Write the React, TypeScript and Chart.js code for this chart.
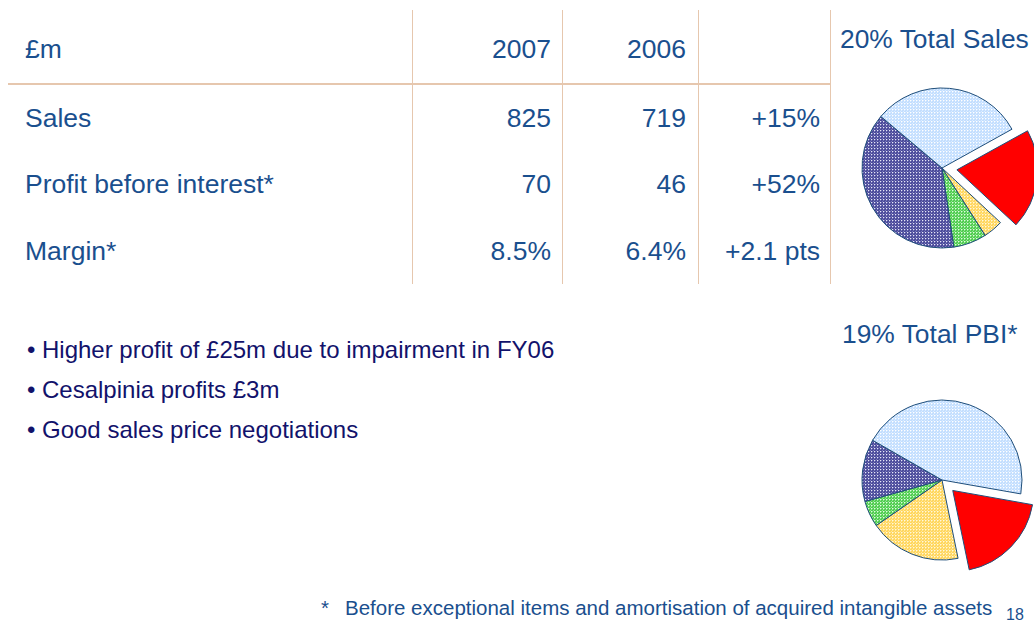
import React, { useEffect, useRef } from "react";
import { Chart, registerables } from "chart.js";

Chart.register(...registerables);

// ---- data ----
const segments = ["This division", "Segment B", "Segment C", "Segment D", "Segment E"];
const salesShare = [20, 4, 6.7, 38.5, 30.8];
const pbiShare = [19, 18.6, 5.3, 12.6, 44.5];
const salesRotation = 61;
const pbiRotation = 100;

const tableHeader = ["£m", "2007", "2006", ""];
const rowLabels = ["Sales", "Profit before interest*", "Margin*"];
const values2007 = ["825", "70", "8.5%"];
const values2006 = ["719", "46", "6.4%"];
const changes = ["+15%", "+52%", "+2.1 pts"];

const bullets = [
  "Higher profit of £25m due to impairment in FY06",
  "Cesalpinia profits £3m",
  "Good sales price negotiations",
];
const salesTitle = "20% Total Sales";
const pbiTitle = "19% Total PBI*";
const footnote = "Before exceptional items and amortisation of acquired intangible assets";
const pageNumber = "18";

// ---- styles ----
const BLUE = "#1a4f8e";
const NAVY = "#12126b";
const LINE = "#e6c7ae";
const FONT = "'Liberation Sans', Arial, sans-serif";

function makePattern(base: string, mid: string, dot: string): CanvasPattern | string {
  const c = document.createElement("canvas");
  c.width = 3;
  c.height = 3;
  const x = c.getContext("2d");
  if (!x) return base;
  x.fillStyle = base;
  x.fillRect(0, 0, 3, 3);
  x.fillStyle = mid;
  x.fillRect(1, 0, 1, 1);
  x.fillRect(0, 1, 1, 1);
  x.fillRect(2, 2, 1, 1);
  x.fillStyle = dot;
  x.fillRect(0, 0, 1, 1);
  const ctx = document.createElement("canvas").getContext("2d");
  return (ctx && ctx.createPattern(c, "repeat")) || base;
}

function Pie({ values, rotation, cx, cy }: { values: number[]; rotation: number; cx: number; cy: number }) {
  const ref = useRef<HTMLCanvasElement>(null);
  useEffect(() => {
    const canvas = ref.current;
    if (!canvas) return;
    const fills = [
      "#ff0000",
      makePattern("#ffd65c", "#ffe69a", "#fff8dc"),
      makePattern("#50cc50", "#90e490", "#e0fae0"),
      makePattern("#4a4a9a", "#7878b8", "#e6e6f6"),
      makePattern("#c2deff", "#dcecff", "#ffffff"),
    ];
    const chart = new Chart(canvas, {
      type: "pie",
      data: {
        labels: segments,
        datasets: [
          {
            data: values,
            backgroundColor: fills as any,
            borderColor: "#1f4e7a",
            borderWidth: 1,
            offset: [60, 0, 0, 0, 0],
            radius: 80,
          } as any,
        ],
      },
      options: {
        animation: false,
        responsive: false,
        rotation,
        events: [],
        layout: { padding: 0 },
        plugins: { legend: { display: false }, tooltip: { enabled: false } },
      },
    });
    return () => chart.destroy();
  }, []);
  return (
    <canvas
      ref={ref}
      width={220}
      height={220}
      style={{ position: "absolute", left: cx - 110, top: cy - 110, width: 220, height: 220 }}
    />
  );
}

function Txt({
  text, x, baseline, size, color, align = "left",
}: { text: string; x: number; baseline: number; size: number; color: string; align?: "left" | "right" }) {
  const style: React.CSSProperties = {
    position: "absolute",
    top: baseline - 0.8465 * size,
    fontSize: size,
    lineHeight: 1,
    fontFamily: FONT,
    color,
    whiteSpace: "nowrap",
  };
  if (align === "right") style.right = 1034 - x;
  else style.left = x;
  return <div style={style}>{text}</div>;
}

export default function App() {
  const rowBaselines = [127, 193, 260];
  const TS = 26.5;
  return (
    <div
      style={{
        position: "absolute",
        left: 0,
        top: 0,
        width: 1034,
        height: 627,
        overflow: "hidden",
        background: "#ffffff",
      }}
    >
      {/* table lines */}
      {[412, 562, 698, 830].map((x) => (
        <div key={x} style={{ position: "absolute", left: x, top: 10, width: 1, height: 274, background: LINE }} />
      ))}
      <div style={{ position: "absolute", left: 8, top: 83, width: 823, height: 2, background: LINE }} />

      {/* header */}
      <Txt text={tableHeader[0]} x={25} baseline={58} size={TS} color={BLUE} />
      <Txt text={tableHeader[1]} x={551} baseline={58} size={TS} color={BLUE} align="right" />
      <Txt text={tableHeader[2]} x={686} baseline={58} size={TS} color={BLUE} align="right" />

      {rowLabels.map((l, i) => (
        <React.Fragment key={l}>
          <Txt text={l} x={25} baseline={rowBaselines[i]} size={TS} color={BLUE} />
          <Txt text={values2007[i]} x={551} baseline={rowBaselines[i]} size={TS} color={BLUE} align="right" />
          <Txt text={values2006[i]} x={686} baseline={rowBaselines[i]} size={TS} color={BLUE} align="right" />
          <Txt text={changes[i]} x={820} baseline={rowBaselines[i]} size={TS} color={BLUE} align="right" />
        </React.Fragment>
      ))}

      {/* bullets */}
      {bullets.map((b, i) => (
        <React.Fragment key={b}>
          <Txt text="•" x={27} baseline={358.3 + i * 40} size={24} color={NAVY} />
          <Txt text={b} x={42} baseline={358.3 + i * 40} size={24} color={NAVY} />
        </React.Fragment>
      ))}

      {/* pie titles */}
      <Txt text={salesTitle} x={840} baseline={48.3} size={26.4} color={BLUE} />
      <Txt text={pbiTitle} x={842} baseline={343} size={26.4} color={BLUE} />

      <Pie values={salesShare} rotation={salesRotation} cx={942} cy={168} />
      <Pie values={pbiShare} rotation={pbiRotation} cx={942} cy={480} />

      {/* footnote */}
      <Txt text="*" x={321} baseline={615} size={20.5} color={BLUE} />
      <Txt text={footnote} x={345} baseline={615} size={20.5} color={BLUE} />
      <Txt text={pageNumber} x={1006} baseline={621} size={16} color={BLUE} />
    </div>
  );
}
